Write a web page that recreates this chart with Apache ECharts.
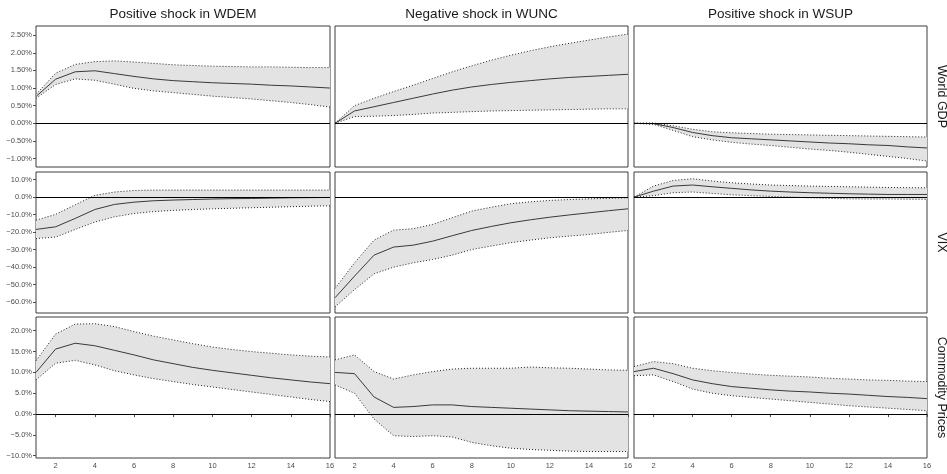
<!DOCTYPE html>
<html>
<head>
<meta charset="utf-8">
<script src="https://cdn.jsdelivr.net/npm/echarts@6/dist/echarts.min.js"></script>
<style>
html, body { margin: 0; padding: 0; background: #fff; }
#chart { width: 947px; height: 474px; }
</style>
</head>
<body>
<div id="chart"></div>
<script>
// horizons and labels
var horizons = [1, 2, 3, 4, 5, 6, 7, 8, 9, 10, 11, 12, 13, 14, 15, 16];
var xTicks = [2, 4, 6, 8, 10, 12, 14, 16];
var shocks = ['Positive shock in WDEM', 'Negative shock in WUNC', 'Positive shock in WSUP'];
var variables = ['World GDP', 'VIX', 'Commodity Prices'];
var gdpTicks = [-1, -0.5, 0, 0.5, 1, 1.5, 2, 2.5];
var vixTicks = [-60, -50, -40, -30, -20, -10, 0, 10];
var comTicks = [-10, -5, 0, 5, 10, 15, 20];

// World GDP responses (%)
var gdpWdemMid = [0.76, 1.25, 1.46, 1.49, 1.41, 1.33, 1.26, 1.21, 1.18, 1.15, 1.13, 1.11, 1.08, 1.06, 1.03, 1.00];
var gdpWdemHi = [0.82, 1.42, 1.67, 1.75, 1.77, 1.74, 1.70, 1.66, 1.64, 1.62, 1.61, 1.60, 1.60, 1.59, 1.58, 1.58];
var gdpWdemLo = [0.71, 1.10, 1.26, 1.22, 1.11, 0.99, 0.92, 0.87, 0.82, 0.77, 0.73, 0.69, 0.64, 0.59, 0.53, 0.46];
var gdpWuncMid = [0, 0.35, 0.47, 0.59, 0.71, 0.83, 0.94, 1.03, 1.10, 1.16, 1.21, 1.26, 1.30, 1.33, 1.36, 1.39];
var gdpWuncHi = [0, 0.50, 0.71, 0.90, 1.08, 1.27, 1.46, 1.63, 1.79, 1.93, 2.06, 2.17, 2.27, 2.36, 2.45, 2.53];
var gdpWuncLo = [0, 0.19, 0.20, 0.22, 0.25, 0.29, 0.31, 0.33, 0.35, 0.36, 0.37, 0.38, 0.39, 0.40, 0.41, 0.41];
var gdpWsupMid = [0, -0.01, -0.12, -0.26, -0.35, -0.41, -0.44, -0.47, -0.50, -0.53, -0.56, -0.58, -0.61, -0.63, -0.67, -0.70];
var gdpWsupHi = [0, 0.01, -0.07, -0.17, -0.24, -0.27, -0.29, -0.31, -0.32, -0.33, -0.34, -0.35, -0.36, -0.37, -0.38, -0.39];
var gdpWsupLo = [0, -0.03, -0.20, -0.38, -0.47, -0.54, -0.59, -0.63, -0.68, -0.73, -0.77, -0.82, -0.88, -0.94, -1.00, -1.07];

// VIX responses (%)
var vixWdemMid = [-18.5, -17.0, -12.2, -7.1, -4.2, -2.9, -2.1, -1.7, -1.4, -1.1, -0.9, -0.8, -0.6, -0.4, -0.3, -0.2];
var vixWdemHi = [-13.2, -9.9, -4.4, 1.0, 2.9, 3.8, 4.0, 4.0, 4.0, 4.0, 4.0, 4.0, 4.0, 4.0, 4.0, 4.0];
var vixWdemLo = [-23.7, -22.9, -18.5, -14.3, -11.3, -9.4, -8.3, -7.6, -7.1, -6.7, -6.4, -6.1, -5.8, -5.5, -5.2, -5.0];
var vixWuncMid = [-57.6, -45.2, -33.2, -28.6, -27.5, -25.2, -22.1, -19.1, -16.8, -14.7, -13.0, -11.5, -10.2, -9.0, -7.8, -6.7];
var vixWuncHi = [-52.3, -37.6, -24.6, -18.9, -18.1, -15.6, -11.8, -8.0, -5.8, -3.8, -2.7, -1.9, -1.4, -1.0, -0.7, -0.4];
var vixWuncLo = [-62.8, -52.9, -43.9, -40.1, -37.6, -35.7, -33.2, -30.0, -28.0, -26.1, -24.6, -23.3, -22.3, -21.4, -20.2, -19.1];
var vixWsupMid = [0, 3.4, 6.3, 6.9, 5.9, 5.0, 4.1, 3.4, 2.9, 2.5, 2.2, 1.9, 1.7, 1.5, 1.5, 1.5];
var vixWsupHi = [0, 6.3, 9.5, 10.5, 9.2, 8.2, 7.5, 6.9, 6.6, 6.3, 6.1, 5.9, 5.7, 5.5, 5.4, 5.3];
var vixWsupLo = [0, 0.8, 2.5, 2.9, 2.1, 1.3, 0.8, 0.4, 0.0, -0.4, -0.7, -1.0, -1.1, -1.1, -1.2, -1.3];

// Commodity price responses (%)
var comWdemMid = [10.0, 15.6, 17.0, 16.4, 15.3, 14.2, 13.0, 12.1, 11.2, 10.5, 9.9, 9.3, 8.7, 8.2, 7.7, 7.3];
var comWdemHi = [12.8, 19.2, 21.6, 21.7, 21.0, 19.8, 18.7, 17.8, 16.9, 16.1, 15.5, 15.0, 14.6, 14.2, 13.9, 13.7];
var comWdemLo = [8.2, 12.2, 12.9, 11.8, 10.4, 9.4, 8.5, 7.8, 7.1, 6.5, 5.9, 5.3, 4.7, 4.1, 3.5, 3.0];
var comWuncMid = [10.0, 9.7, 4.1, 1.6, 1.8, 2.2, 2.2, 1.8, 1.6, 1.4, 1.2, 1.0, 0.8, 0.7, 0.6, 0.5];
var comWuncHi = [13.0, 14.2, 10.2, 8.4, 9.4, 10.2, 10.8, 11.0, 11.0, 11.0, 11.3, 11.1, 11.0, 10.8, 10.6, 10.5];
var comWuncLo = [7.0, 5.0, -1.2, -5.2, -5.4, -5.2, -5.5, -6.8, -7.6, -8.2, -8.5, -8.7, -8.9, -9.0, -9.0, -9.0];
var comWsupMid = [10.2, 11.0, 9.7, 8.2, 7.3, 6.6, 6.2, 5.8, 5.5, 5.3, 5.0, 4.8, 4.5, 4.2, 4.0, 3.7];
var comWsupHi = [11.4, 12.6, 12.1, 11.0, 10.4, 10.0, 9.6, 9.3, 9.1, 8.9, 8.6, 8.4, 8.2, 8.1, 7.9, 7.8];
var comWsupLo = [9.2, 9.4, 7.8, 6.0, 5.0, 4.4, 4.0, 3.6, 3.2, 2.8, 2.4, 2.0, 1.7, 1.4, 1.1, 0.8];

var panels = [
	[[gdpWdemMid, gdpWdemLo, gdpWdemHi], [gdpWuncMid, gdpWuncLo, gdpWuncHi], [gdpWsupMid, gdpWsupLo, gdpWsupHi]],
	[[vixWdemMid, vixWdemLo, vixWdemHi], [vixWuncMid, vixWuncLo, vixWuncHi], [vixWsupMid, vixWsupLo, vixWsupHi]],
	[[comWdemMid, comWdemLo, comWdemHi], [comWuncMid, comWuncLo, comWuncHi], [comWsupMid, comWsupLo, comWsupHi]]
];
var rowTicks = [gdpTicks, vixTicks, comTicks];
var rowRange = [[-1.24, 2.76], [-66.3, 14.35], [-10.55, 23.3]];
var rowDigits = [2, 1, 1];

var colLeft = [36, 335, 634];
var colWidth = [294, 293, 293];
var rowTop = [26, 172, 317];
var rowHeight = 141;
var font = 'Liberation Sans, Arial, Helvetica, sans-serif';

var myChart = echarts.init(document.getElementById('chart'), null, {renderer: 'canvas'});

function pct(digits) {
	return function (v) {
		var s = Math.abs(v).toFixed(digits) + '%';
		return v < 0 ? '\u2212' + s : s;
	};
}

// grey band between lower and upper bound, drawn once per panel
function ribbon(lo, hi) {
	return function (params, api) {
		if (params.dataIndex !== 0) return;
		var pts = [];
		for (var i = 0; i < horizons.length; i++) pts.push(api.coord([horizons[i], hi[i]]));
		for (var j = horizons.length - 1; j >= 0; j--) pts.push(api.coord([horizons[j], lo[j]]));
		return {type: 'polygon', shape: {points: pts}, style: {fill: '#e3e3e3'}};
	};
}

function pairs(vals) {
	return horizons.map(function (h, i) { return [h, vals[i]]; });
}

var grid = [], xAxis = [], yAxis = [], series = [], graphic = [];

for (var r = 0; r < 3; r++) {
	for (var c = 0; c < 3; c++) {
		var k = r * 3 + c;
		var mid = panels[r][c][0], lo = panels[r][c][1], hi = panels[r][c][2];
		grid.push({
			left: colLeft[c], top: rowTop[r], width: colWidth[c], height: rowHeight,
			show: true, borderColor: '#3d3d3d', borderWidth: 1, backgroundColor: '#fff'
		});
		xAxis.push({
			type: 'value', gridIndex: k, min: 1, max: 16,
			axisLine: {show: false},
			splitLine: {show: false},
			axisTick: {show: r === 2, customValues: xTicks, length: 3, lineStyle: {color: '#4d4d4d'}},
			axisLabel: {show: r === 2, customValues: xTicks, fontSize: 7.5, color: '#4d4d4d', margin: 4, fontFamily: font}
		});
		yAxis.push({
			type: 'value', gridIndex: k, min: rowRange[r][0], max: rowRange[r][1],
			axisLine: {show: false},
			splitLine: {show: false},
			axisTick: {show: c === 0, customValues: rowTicks[r], length: 3, lineStyle: {color: '#4d4d4d'}},
			axisLabel: {show: c === 0, customValues: rowTicks[r], fontSize: 7.5, color: '#4d4d4d', margin: 4,
				fontFamily: font, formatter: pct(rowDigits[r])}
		});
		series.push({
			type: 'custom', xAxisIndex: k, yAxisIndex: k, silent: true, z: 1,
			data: horizons.map(function (h, i) { return [h, lo[i], hi[i]]; }),
			encode: {x: 0, y: [1, 2]},
			renderItem: ribbon(lo, hi)
		});
		series.push({
			type: 'line', xAxisIndex: k, yAxisIndex: k, silent: true, z: 2,
			data: pairs(mid), symbol: 'none',
			lineStyle: {color: '#3a3a3a', width: 1},
			markLine: {
				silent: true, symbol: 'none', label: {show: false},
				lineStyle: {color: '#000', type: 'solid', width: 1},
				data: [{yAxis: 0}]
			}
		});
		series.push({
			type: 'line', xAxisIndex: k, yAxisIndex: k, silent: true, z: 3,
			data: pairs(hi), symbol: 'none',
			lineStyle: {color: '#222', width: 1, type: [1, 2]}
		});
		series.push({
			type: 'line', xAxisIndex: k, yAxisIndex: k, silent: true, z: 3,
			data: pairs(lo), symbol: 'none',
			lineStyle: {color: '#222', width: 1, type: [1, 2]}
		});
	}
}

for (var c2 = 0; c2 < 3; c2++) {
	graphic.push({
		type: 'text', x: colLeft[c2] + colWidth[c2] / 2, y: 14,
		style: {text: shocks[c2], fill: '#1a1a1a', font: '13.5px ' + font,
			align: 'center', verticalAlign: 'middle', textAlign: 'center', textVerticalAlign: 'middle'}
	});
}
for (var r2 = 0; r2 < 3; r2++) {
	graphic.push({
		type: 'text', x: 941, y: rowTop[r2] + rowHeight / 2, rotation: -Math.PI / 2,
		style: {text: variables[r2], fill: '#1a1a1a', font: '12.5px ' + font,
			align: 'center', verticalAlign: 'middle', textAlign: 'center', textVerticalAlign: 'middle'}
	});
}

myChart.setOption({
	animation: false,
	backgroundColor: '#fff',
	grid: grid,
	xAxis: xAxis,
	yAxis: yAxis,
	series: series,
	graphic: graphic
});
</script>
</body>
</html>
